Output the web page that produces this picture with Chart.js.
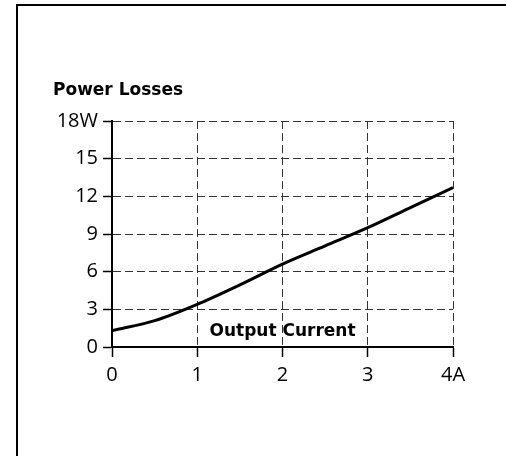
<!DOCTYPE html>
<html>
<head>
<meta charset="utf-8">
<style>
  html, body { margin: 0; padding: 0; background: #fff; }
  #wrap { width: 506px; height: 456px; position: relative; }
</style>
<script src="https://cdn.jsdelivr.net/npm/chart.js@4"></script>
</head>
<body>
<div id="wrap"><canvas id="lossChart" width="506" height="456"></canvas></div>
<script>
// values
const current = [0, 0.5, 1, 1.5, 2, 2.5, 3, 3.5, 4];
const losses = [1.3, 2.1, 3.4, 4.95, 6.6, 8.05, 9.5, 11.1, 12.7];
const xTicks = ['0', '1', '2', '3', '4A'];
const yTicks = ['0', '3', '6', '9', '12', '15', '18W'];

const FONT = '"Open Sans", sans-serif';
const BOLD = 'bold 17px "DejaVu Sans", sans-serif';

// frame lines and the two bold captions
const extras = {
    id: 'extras',
    afterDraw(chart) {
        const ctx = chart.ctx;
        const x = chart.scales.x, y = chart.scales.y;
        ctx.save();
        ctx.strokeStyle = '#000';
        ctx.lineWidth = 2;
        ctx.beginPath();
        ctx.moveTo(17, 456);
        ctx.lineTo(17, 5);
        ctx.lineTo(506, 5);
        ctx.stroke();

        ctx.fillStyle = '#000';
        ctx.font = BOLD;
        ctx.textBaseline = 'middle';
        ctx.textAlign = 'left';
        ctx.fillText('Power Losses', 53, 91);

        ctx.textAlign = 'center';
        ctx.fillText('Output Current', x.getPixelForValue(2), y.getPixelForValue(1.2));
        ctx.restore();
    }
};

const ctx = document.getElementById('lossChart').getContext('2d');
new Chart(ctx, {
    type: 'line',
    data: {
        datasets: [{
            data: current.map((c, i) => ({ x: c, y: losses[i] })),
            borderColor: '#000',
            borderWidth: 3,
            pointRadius: 0,
            cubicInterpolationMode: 'monotone',
            fill: false
        }]
    },
    options: {
        responsive: false,
        animation: false,
        layout: { padding: { left: 0, right: 53, top: 121, bottom: 59 } },
        plugins: {
            legend: { display: false },
            tooltip: { enabled: false }
        },
        scales: {
            x: {
                type: 'linear',
                min: 0,
                max: 4,
                afterFit: s => { s.height = 50; },
                ticks: {
                    stepSize: 1,
                    padding: 6,
                    color: '#000',
                    font: { family: FONT, size: 20 },
                    callback: (v, i) => xTicks[i]
                },
                grid: {
                    color: '#333',
                    lineWidth: 1,
                    tickColor: '#000',
                    tickLength: 10,
                    tickWidth: 1.5
                },
                border: { display: true, color: '#000', width: 2, dash: [8, 4] }
            },
            y: {
                min: 0,
                max: 18,
                afterFit: s => { s.width = 112; },
                ticks: {
                    stepSize: 3,
                    padding: 5,
                    color: '#000',
                    font: { family: FONT, size: 20 },
                    callback: (v, i) => yTicks[i]
                },
                grid: {
                    color: '#333',
                    lineWidth: 1,
                    tickColor: '#000',
                    tickLength: 9,
                    tickWidth: 1.5
                },
                border: { display: true, color: '#000', width: 2, dash: [8, 4] }
            }
        }
    },
    plugins: [extras]
});
</script>
</body>
</html>
